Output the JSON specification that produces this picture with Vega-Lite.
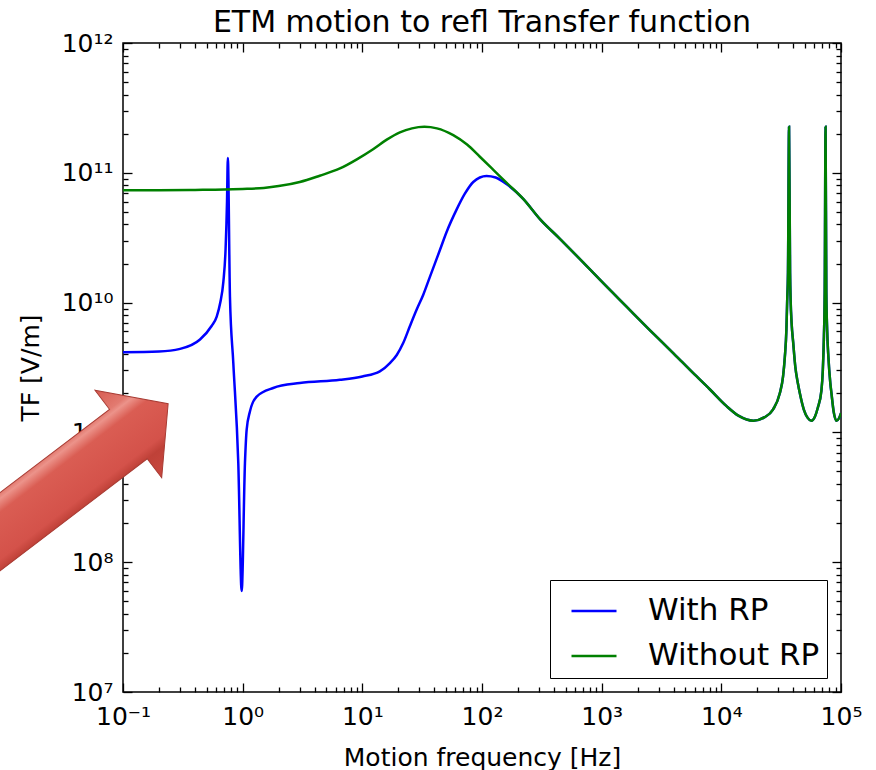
{
  "$schema": "https://vega.github.io/schema/vega-lite/v6.json",
  "width": 718,
  "height": 649,
  "autosize": {"type": "none"},
  "padding": {"left": 123, "top": 43, "right": 35, "bottom": 78},
  "background": "white",
  "title": {
    "text": "ETM motion to refl Transfer function",
    "font": "DejaVu Sans",
    "fontSize": 30,
    "fontWeight": "normal",
    "color": "black",
    "anchor": "middle",
    "offset": -7
  },
  "config": {
    "view": {"stroke": "black", "strokeWidth": 1.5},
    "axis": {"domain": false, "grid": false}
  },
  "datasets": {
    "curves": [
      {"series": "With RP", "freq": 0.1, "tf": 4.15e9},
      {"series": "With RP", "freq": 0.2, "tf": 4.2e9},
      {"series": "With RP", "freq": 0.3, "tf": 4.4e9},
      {"series": "With RP", "freq": 0.44, "tf": 5.2e9},
      {"series": "With RP", "freq": 0.55, "tf": 6.6e9},
      {"series": "With RP", "freq": 0.607, "tf": 7.8e9},
      {"series": "With RP", "freq": 0.65, "tf": 1.0e10},
      {"series": "With RP", "freq": 0.69, "tf": 1.45e10},
      {"series": "With RP", "freq": 0.72, "tf": 2.6e10},
      {"series": "With RP", "freq": 0.74, "tf": 6.0e10},
      {"series": "With RP", "freq": 0.752, "tf": 1.3e11},
      {"series": "With RP", "freq": 0.783, "tf": 1.11e10},
      {"series": "With RP", "freq": 0.835, "tf": 3.44e9},
      {"series": "With RP", "freq": 0.919, "tf": 5.85e8},
      {"series": "With RP", "freq": 0.981, "tf": 6.0e7},
      {"series": "With RP", "freq": 1.045, "tf": 5.8e8},
      {"series": "With RP", "freq": 1.08, "tf": 1.05e9},
      {"series": "With RP", "freq": 1.15, "tf": 1.45e9},
      {"series": "With RP", "freq": 1.31, "tf": 1.89e9},
      {"series": "With RP", "freq": 1.8, "tf": 2.2e9},
      {"series": "With RP", "freq": 3.0, "tf": 2.4e9},
      {"series": "With RP", "freq": 6.5, "tf": 2.54e9},
      {"series": "With RP", "freq": 10, "tf": 2.7e9},
      {"series": "With RP", "freq": 14, "tf": 2.95e9},
      {"series": "With RP", "freq": 17, "tf": 3.42e9},
      {"series": "With RP", "freq": 19.4, "tf": 3.95e9},
      {"series": "With RP", "freq": 22, "tf": 4.9e9},
      {"series": "With RP", "freq": 25, "tf": 6.6e9},
      {"series": "With RP", "freq": 28.4, "tf": 8.8e9},
      {"series": "With RP", "freq": 32.3, "tf": 1.15e10},
      {"series": "With RP", "freq": 36.7, "tf": 1.58e10},
      {"series": "With RP", "freq": 44.5, "tf": 2.54e10},
      {"series": "With RP", "freq": 50.6, "tf": 3.5e10},
      {"series": "With RP", "freq": 61.3, "tf": 5.2e10},
      {"series": "With RP", "freq": 71.9, "tf": 6.9e10},
      {"series": "With RP", "freq": 84.5, "tf": 8.5e10},
      {"series": "With RP", "freq": 109, "tf": 9.45e10},
      {"series": "With RP", "freq": 130, "tf": 9.2e10},
      {"series": "With RP", "freq": 160, "tf": 8.2e10},
      {"series": "With RP", "freq": 221, "tf": 6.3e10},
      {"series": "With RP", "freq": 305, "tf": 4.4e10},
      {"series": "With RP", "freq": 448, "tf": 3.1e10},
      {"series": "With RP", "freq": 700, "tf": 2.04e10},
      {"series": "With RP", "freq": 966, "tf": 1.5e10},
      {"series": "With RP", "freq": 1614, "tf": 9.3e9},
      {"series": "With RP", "freq": 2500, "tf": 6.2e9},
      {"series": "With RP", "freq": 4000, "tf": 4.05e9},
      {"series": "With RP", "freq": 5800, "tf": 2.87e9},
      {"series": "With RP", "freq": 8000, "tf": 2.15e9},
      {"series": "With RP", "freq": 11000, "tf": 1.6e9},
      {"series": "With RP", "freq": 14000, "tf": 1.34e9},
      {"series": "With RP", "freq": 18500, "tf": 1.23e9},
      {"series": "With RP", "freq": 23000, "tf": 1.31e9},
      {"series": "With RP", "freq": 27000, "tf": 1.5e9},
      {"series": "With RP", "freq": 30810, "tf": 2.0e9},
      {"series": "With RP", "freq": 32800, "tf": 2.7e9},
      {"series": "With RP", "freq": 33930, "tf": 3.8e9},
      {"series": "With RP", "freq": 35000, "tf": 6.3e9},
      {"series": "With RP", "freq": 35520, "tf": 1.05e10},
      {"series": "With RP", "freq": 36050, "tf": 1.7e10},
      {"series": "With RP", "freq": 36800, "tf": 2.26e11},
      {"series": "With RP", "freq": 37540, "tf": 1.7e10},
      {"series": "With RP", "freq": 37930, "tf": 1.05e10},
      {"series": "With RP", "freq": 38640, "tf": 7.0e9},
      {"series": "With RP", "freq": 39800, "tf": 5.0e9},
      {"series": "With RP", "freq": 41520, "tf": 3.2e9},
      {"series": "With RP", "freq": 43580, "tf": 2.4e9},
      {"series": "With RP", "freq": 45300, "tf": 2.0e9},
      {"series": "With RP", "freq": 48900, "tf": 1.5e9},
      {"series": "With RP", "freq": 52500, "tf": 1.3e9},
      {"series": "With RP", "freq": 56600, "tf": 1.23e9},
      {"series": "With RP", "freq": 60500, "tf": 1.32e9},
      {"series": "With RP", "freq": 64000, "tf": 1.55e9},
      {"series": "With RP", "freq": 68600, "tf": 2.1e9},
      {"series": "With RP", "freq": 70470, "tf": 3.0e9},
      {"series": "With RP", "freq": 72000, "tf": 5.5e9},
      {"series": "With RP", "freq": 73100, "tf": 1.2e10},
      {"series": "With RP", "freq": 74300, "tf": 2.26e11},
      {"series": "With RP", "freq": 75400, "tf": 1.2e10},
      {"series": "With RP", "freq": 76680, "tf": 6.0e9},
      {"series": "With RP", "freq": 78460, "tf": 3.8e9},
      {"series": "With RP", "freq": 81420, "tf": 2.4e9},
      {"series": "With RP", "freq": 83250, "tf": 2.0e9},
      {"series": "With RP", "freq": 86770, "tf": 1.45e9},
      {"series": "With RP", "freq": 91700, "tf": 1.23e9},
      {"series": "With RP", "freq": 96000, "tf": 1.28e9},
      {"series": "With RP", "freq": 100000, "tf": 1.41e9},

      {"series": "Without RP", "freq": 0.1, "tf": 7.35e10},
      {"series": "Without RP", "freq": 0.2, "tf": 7.35e10},
      {"series": "Without RP", "freq": 0.4, "tf": 7.38e10},
      {"series": "Without RP", "freq": 0.7, "tf": 7.42e10},
      {"series": "Without RP", "freq": 1, "tf": 7.5e10},
      {"series": "Without RP", "freq": 1.5, "tf": 7.65e10},
      {"series": "Without RP", "freq": 2, "tf": 7.9e10},
      {"series": "Without RP", "freq": 3, "tf": 8.5e10},
      {"series": "Without RP", "freq": 4.4, "tf": 9.5e10},
      {"series": "Without RP", "freq": 6.5, "tf": 1.08e11},
      {"series": "Without RP", "freq": 9, "tf": 1.27e11},
      {"series": "Without RP", "freq": 12.3, "tf": 1.52e11},
      {"series": "Without RP", "freq": 16, "tf": 1.8e11},
      {"series": "Without RP", "freq": 20.6, "tf": 2.05e11},
      {"series": "Without RP", "freq": 26, "tf": 2.2e11},
      {"series": "Without RP", "freq": 33, "tf": 2.26e11},
      {"series": "Without RP", "freq": 42, "tf": 2.2e11},
      {"series": "Without RP", "freq": 57.5, "tf": 1.95e11},
      {"series": "Without RP", "freq": 75, "tf": 1.65e11},
      {"series": "Without RP", "freq": 96, "tf": 1.33e11},
      {"series": "Without RP", "freq": 125, "tf": 1.05e11},
      {"series": "Without RP", "freq": 160, "tf": 8.4e10},
      {"series": "Without RP", "freq": 221, "tf": 6.3e10},
      {"series": "Without RP", "freq": 305, "tf": 4.4e10},
      {"series": "Without RP", "freq": 448, "tf": 3.1e10},
      {"series": "Without RP", "freq": 700, "tf": 2.04e10},
      {"series": "Without RP", "freq": 966, "tf": 1.5e10},
      {"series": "Without RP", "freq": 1614, "tf": 9.3e9},
      {"series": "Without RP", "freq": 2500, "tf": 6.2e9},
      {"series": "Without RP", "freq": 4000, "tf": 4.05e9},
      {"series": "Without RP", "freq": 5800, "tf": 2.87e9},
      {"series": "Without RP", "freq": 8000, "tf": 2.15e9},
      {"series": "Without RP", "freq": 11000, "tf": 1.6e9},
      {"series": "Without RP", "freq": 14000, "tf": 1.34e9},
      {"series": "Without RP", "freq": 18500, "tf": 1.23e9},
      {"series": "Without RP", "freq": 23000, "tf": 1.31e9},
      {"series": "Without RP", "freq": 27000, "tf": 1.5e9},
      {"series": "Without RP", "freq": 30810, "tf": 2.0e9},
      {"series": "Without RP", "freq": 32800, "tf": 2.7e9},
      {"series": "Without RP", "freq": 33930, "tf": 3.8e9},
      {"series": "Without RP", "freq": 35000, "tf": 6.3e9},
      {"series": "Without RP", "freq": 35520, "tf": 1.05e10},
      {"series": "Without RP", "freq": 36050, "tf": 1.7e10},
      {"series": "Without RP", "freq": 36800, "tf": 2.26e11},
      {"series": "Without RP", "freq": 37540, "tf": 1.7e10},
      {"series": "Without RP", "freq": 37930, "tf": 1.05e10},
      {"series": "Without RP", "freq": 38640, "tf": 7.0e9},
      {"series": "Without RP", "freq": 39800, "tf": 5.0e9},
      {"series": "Without RP", "freq": 41520, "tf": 3.2e9},
      {"series": "Without RP", "freq": 43580, "tf": 2.4e9},
      {"series": "Without RP", "freq": 45300, "tf": 2.0e9},
      {"series": "Without RP", "freq": 48900, "tf": 1.5e9},
      {"series": "Without RP", "freq": 52500, "tf": 1.3e9},
      {"series": "Without RP", "freq": 56600, "tf": 1.23e9},
      {"series": "Without RP", "freq": 60500, "tf": 1.32e9},
      {"series": "Without RP", "freq": 64000, "tf": 1.55e9},
      {"series": "Without RP", "freq": 68600, "tf": 2.1e9},
      {"series": "Without RP", "freq": 70470, "tf": 3.0e9},
      {"series": "Without RP", "freq": 72000, "tf": 5.5e9},
      {"series": "Without RP", "freq": 73100, "tf": 1.2e10},
      {"series": "Without RP", "freq": 74300, "tf": 2.26e11},
      {"series": "Without RP", "freq": 75400, "tf": 1.2e10},
      {"series": "Without RP", "freq": 76680, "tf": 6.0e9},
      {"series": "Without RP", "freq": 78460, "tf": 3.8e9},
      {"series": "Without RP", "freq": 81420, "tf": 2.4e9},
      {"series": "Without RP", "freq": 83250, "tf": 2.0e9},
      {"series": "Without RP", "freq": 86770, "tf": 1.45e9},
      {"series": "Without RP", "freq": 91700, "tf": 1.23e9},
      {"series": "Without RP", "freq": 96000, "tf": 1.28e9},
      {"series": "Without RP", "freq": 100000, "tf": 1.41e9}
    ],
    "arrow": [
      {"freq": 0.0301, "tf": 3.89e8}
    ]
  },
  "layer": [
    {
      "data": {"name": "curves"},
      "mark": {"type": "line", "strokeWidth": 2.5, "interpolate": "monotone", "clip": true},
      "encoding": {
        "x": {
          "field": "freq",
          "type": "quantitative",
          "scale": {"type": "log", "domain": [0.1, 100000], "nice": false},
          "axis": {
            "orient": "bottom",
            "values": [0.1, 0.2, 0.3, 0.4, 0.5, 0.6, 0.7, 0.8, 0.9, 1, 2, 3, 4, 5, 6, 7, 8, 9, 10, 20, 30, 40, 50, 60, 70, 80, 90, 100, 200, 300, 400, 500, 600, 700, 800, 900, 1000, 2000, 3000, 4000, 5000, 6000, 7000, 8000, 9000, 10000, 20000, 30000, 40000, 50000, 60000, 70000, 80000, 90000, 100000],
            "labelExpr": "datum.value == 0.1 ? '10⁻¹' : datum.value == 1 ? '10⁰' : datum.value == 10 ? '10¹' : datum.value == 100 ? '10²' : datum.value == 1000 ? '10³' : datum.value == 10000 ? '10⁴' : datum.value == 100000 ? '10⁵' : ''",
            "tickSize": {"condition": {"test": "abs(log(datum.value)/LN10 - round(log(datum.value)/LN10)) < 0.001", "value": -9}, "value": -5},
            "tickWidth": 1.3,
            "tickColor": "black",
            "labelFont": "DejaVu Sans",
            "labelFontSize": 25,
            "labelColor": "black",
            "labelPadding": 21,
            "labelOverlap": false,
            "labelFlush": false,
            "title": "Motion frequency [Hz]",
            "titleFont": "DejaVu Sans",
            "titleFontSize": 25,
            "titleFontWeight": "normal",
            "titleColor": "black",
            "titlePadding": 12
          }
        },
        "y": {
          "field": "tf",
          "type": "quantitative",
          "scale": {"type": "log", "domain": [1e7, 1e12], "nice": false},
          "axis": {
            "orient": "left",
            "values": [1e7, 2e7, 3e7, 4e7, 5e7, 6e7, 7e7, 8e7, 9e7, 1e8, 2e8, 3e8, 4e8, 5e8, 6e8, 7e8, 8e8, 9e8, 1e9, 2e9, 3e9, 4e9, 5e9, 6e9, 7e9, 8e9, 9e9, 1e10, 2e10, 3e10, 4e10, 5e10, 6e10, 7e10, 8e10, 9e10, 1e11, 2e11, 3e11, 4e11, 5e11, 6e11, 7e11, 8e11, 9e11, 1e12],
            "labelExpr": "datum.value == 1e7 ? '10⁷' : datum.value == 1e8 ? '10⁸' : datum.value == 1e9 ? '10⁹' : datum.value == 1e10 ? '10¹⁰' : datum.value == 1e11 ? '10¹¹' : datum.value == 1e12 ? '10¹²' : ''",
            "tickSize": {"condition": {"test": "abs(log(datum.value)/LN10 - round(log(datum.value)/LN10)) < 0.001", "value": -9}, "value": -5},
            "tickWidth": 1.3,
            "tickColor": "black",
            "labelFont": "DejaVu Sans",
            "labelFontSize": 25,
            "labelColor": "black",
            "labelPadding": 19,
            "labelOverlap": false,
            "labelFlush": false,
            "title": "TF [V/m]",
            "titleFont": "DejaVu Sans",
            "titleFontSize": 25,
            "titleFontWeight": "normal",
            "titleColor": "black",
            "titlePadding": 18
          }
        },
        "color": {
          "field": "series",
          "type": "nominal",
          "scale": {"domain": ["With RP", "Without RP"], "range": ["#0000ff", "#008000"]},
          "legend": {
            "title": null,
            "orient": "bottom-right",
            "offset": 14,
            "strokeColor": "black",
            "fillColor": "white",
            "padding": 7,
            "symbolOffset": 13,
            "symbolType": "stroke",
            "symbolSize": 2025,
            "symbolStrokeWidth": 2.5,
            "labelFont": "DejaVu Sans",
            "labelFontSize": 31,
            "labelColor": "black",
            "labelLimit": 400,
            "labelOffset": 30,
            "rowPadding": 6
          }
        }
      }
    },
    {
      "data": {"name": "curves"},
      "mark": {"type": "point", "opacity": 0},
      "encoding": {
        "x": {
          "field": "freq",
          "type": "quantitative",
          "scale": {"type": "log", "domain": [0.1, 100000], "nice": false},
          "axis": {
            "orient": "top",
            "values": [0.1, 0.2, 0.3, 0.4, 0.5, 0.6, 0.7, 0.8, 0.9, 1, 2, 3, 4, 5, 6, 7, 8, 9, 10, 20, 30, 40, 50, 60, 70, 80, 90, 100, 200, 300, 400, 500, 600, 700, 800, 900, 1000, 2000, 3000, 4000, 5000, 6000, 7000, 8000, 9000, 10000, 20000, 30000, 40000, 50000, 60000, 70000, 80000, 90000, 100000],
            "labels": false,
            "tickSize": {"condition": {"test": "abs(log(datum.value)/LN10 - round(log(datum.value)/LN10)) < 0.001", "value": -9}, "value": -5},
            "tickWidth": 1.3,
            "tickColor": "black",
            "title": null
          }
        },
        "y": {
          "field": "tf",
          "type": "quantitative",
          "scale": {"type": "log", "domain": [1e7, 1e12], "nice": false},
          "axis": {
            "orient": "right",
            "values": [1e7, 2e7, 3e7, 4e7, 5e7, 6e7, 7e7, 8e7, 9e7, 1e8, 2e8, 3e8, 4e8, 5e8, 6e8, 7e8, 8e8, 9e8, 1e9, 2e9, 3e9, 4e9, 5e9, 6e9, 7e9, 8e9, 9e9, 1e10, 2e10, 3e10, 4e10, 5e10, 6e10, 7e10, 8e10, 9e10, 1e11, 2e11, 3e11, 4e11, 5e11, 6e11, 7e11, 8e11, 9e11, 1e12],
            "labels": false,
            "tickSize": {"condition": {"test": "abs(log(datum.value)/LN10 - round(log(datum.value)/LN10)) < 0.001", "value": -9}, "value": -5},
            "tickWidth": 1.3,
            "tickColor": "black",
            "title": null
          }
        }
      }
    },
    {
      "data": {"name": "arrow"},
      "mark": {
        "type": "point",
        "shape": "M -1 -0.23 L 0.63 -0.23 L 0.63 -0.407 L 1 0 L 0.63 0.407 L 0.63 0.23 L -1 0.23 Z",
        "size": 73100,
        "angle": 322.7,
        "filled": true,
        "opacity": 1,
        "fill": {
          "gradient": "linear",
          "x1": 0, "y1": 0, "x2": 0, "y2": 1,
          "stops": [
            {"offset": 0, "color": "#d65a50"},
            {"offset": 0.217, "color": "#e27a70"},
            {"offset": 0.26, "color": "#ec938a"},
            {"offset": 0.36, "color": "#da5d53"},
            {"offset": 0.7, "color": "#d4524a"},
            {"offset": 0.783, "color": "#bf4138"},
            {"offset": 1, "color": "#c9483f"}
          ]
        },
        "stroke": "#a83b33",
        "strokeWidth": 1,
        "clip": false
      },
      "encoding": {
        "x": {"field": "freq", "type": "quantitative", "scale": {"type": "log", "domain": [0.1, 100000], "nice": false}, "axis": null},
        "y": {"field": "tf", "type": "quantitative", "scale": {"type": "log", "domain": [1e7, 1e12], "nice": false}, "axis": null}
      }
    }
  ],
  "resolve": {"axis": {"x": "independent", "y": "independent"}}
}
